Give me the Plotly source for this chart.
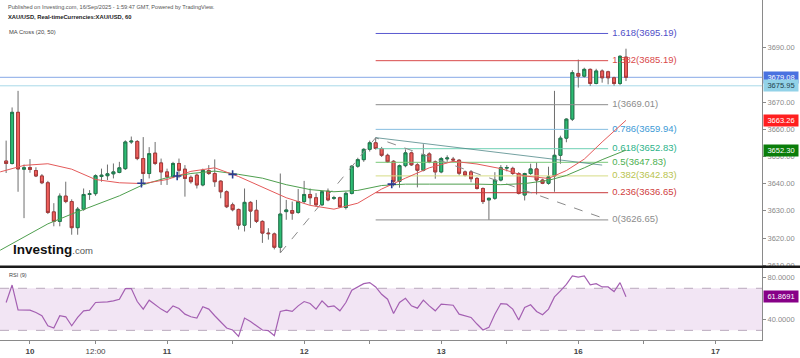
import plotly.graph_objects as go

# ---------------- data ----------------
hours = list(range(-4, 101))  # hourly bar index, 0 = first bar of day "10"

open_ = [3648.3, 3647.4, 3666.2, 3645.3, 3645.9, 3644.8, 3642.8, 3640.3, 3629.6, 3626.1,
         3635.4, 3633.4, 3623.8, 3630.6, 3636.0, 3636.3, 3642.6, 3642.9, 3643.6, 3644.1,
         3645.5, 3655.3, 3655.5, 3649.2, 3643.7, 3651.2, 3647.6, 3644.3, 3642.5, 3647.4,
         3645.3, 3642.3, 3643.1, 3639.5, 3644.8, 3643.7, 3640.9, 3637.0, 3632.2, 3630.5,
         3624.7, 3633.1, 3630.2, 3626.1, 3621.8, 3621.5, 3616.6, 3629.7, 3630.1, 3629.4,
         3633.4, 3636.0, 3634.8, 3632.2, 3637.2, 3634.6, 3634.8, 3631.2, 3636.4, 3646.4,
         3648.8, 3652.6, 3655.0, 3652.9, 3650.4, 3648.2, 3640.8, 3646.6, 3651.3, 3646.9,
         3644.9, 3650.9, 3648.0, 3644.3, 3649.1, 3649.0, 3648.6, 3644.3, 3644.3, 3641.9,
         3638.2, 3634.0, 3634.6, 3641.3, 3645.7, 3645.6, 3643.7, 3635.8, 3643.7, 3645.4,
         3641.3, 3640.1, 3642.8, 3650.4, 3656.7, 3663.7, 3680.5, 3679.5, 3682.0, 3676.8,
         3681.4, 3681.1, 3678.9, 3676.8, 3686.5]
high = [3655.8, 3668.0, 3674.1, 3647.0, 3649.0, 3646.0, 3643.5, 3641.0, 3632.8, 3636.4,
        3640.7, 3634.2, 3631.4, 3638.2, 3637.6, 3643.4, 3645.5, 3647.0, 3647.4, 3648.0,
        3655.9, 3657.3, 3656.0, 3657.1, 3653.4, 3655.3, 3649.2, 3645.5, 3648.0, 3649.2,
        3646.8, 3643.0, 3643.7, 3645.5, 3646.8, 3648.9, 3641.2, 3637.5, 3633.0, 3630.8,
        3638.2, 3633.5, 3634.0, 3626.5, 3623.6, 3622.0, 3643.7, 3634.0, 3633.4, 3638.0,
        3641.0, 3638.2, 3636.5, 3637.3, 3638.2, 3635.5, 3635.2, 3637.0, 3646.8, 3649.5,
        3653.0, 3655.8, 3656.9, 3653.5, 3651.0, 3648.6, 3647.0, 3652.6, 3651.8, 3647.5,
        3654.5, 3651.5, 3648.5, 3649.8, 3650.4, 3649.8, 3649.0, 3644.8, 3645.0, 3642.4,
        3638.6, 3634.8, 3644.2, 3646.8, 3646.8, 3646.2, 3644.2, 3644.0, 3647.3, 3647.8,
        3641.8, 3646.2, 3674.1, 3657.6, 3664.0, 3681.7, 3685.6, 3682.6, 3682.3, 3682.2,
        3682.0, 3681.5, 3679.3, 3687.2, 3689.6]
low = [3643.9, 3647.0, 3637.0, 3627.3, 3644.0, 3642.4, 3639.8, 3628.8, 3624.3, 3624.3,
       3632.8, 3621.2, 3621.2, 3630.0, 3634.0, 3635.5, 3640.7, 3641.3, 3641.9, 3643.8,
       3645.0, 3654.6, 3648.6, 3640.0, 3641.9, 3646.8, 3639.5, 3639.5, 3642.0, 3642.0,
       3635.2, 3640.0, 3638.2, 3639.0, 3643.2, 3638.8, 3634.6, 3631.0, 3629.8, 3623.1,
       3622.4, 3623.7, 3625.5, 3618.2, 3619.4, 3615.8, 3614.5, 3626.7, 3626.7, 3628.9,
       3632.8, 3632.2, 3631.5, 3631.8, 3633.5, 3634.0, 3631.2, 3630.5, 3636.0, 3645.8,
       3648.0, 3651.8, 3652.5, 3649.8, 3647.6, 3639.0, 3638.5, 3646.0, 3646.5, 3638.6,
       3644.5, 3647.5, 3641.8, 3643.8, 3648.0, 3647.8, 3643.0, 3642.6, 3640.5, 3637.8,
       3632.5, 3626.65, 3634.0, 3640.8, 3644.5, 3643.2, 3636.0, 3633.8, 3643.2, 3636.0,
       3639.8, 3639.6, 3637.0, 3647.3, 3655.2, 3663.0, 3675.3, 3679.0, 3675.9, 3676.5,
       3677.1, 3676.5, 3676.0, 3676.2, 3677.7]
close = [3647.4, 3666.2, 3645.4, 3645.8, 3645.2, 3642.8, 3640.3, 3629.4, 3626.1, 3635.4,
         3633.4, 3623.8, 3630.6, 3636.0, 3636.3, 3642.9, 3643.1, 3643.6, 3644.3, 3645.8,
         3655.3, 3655.6, 3649.2, 3643.7, 3651.0, 3647.4, 3644.3, 3642.5, 3647.4, 3644.9,
         3641.9, 3640.7, 3639.5, 3644.9, 3643.7, 3640.7, 3637.0, 3631.5, 3630.4, 3624.7,
         3633.1, 3629.9, 3626.1, 3621.8, 3621.6, 3616.6, 3628.8, 3630.3, 3629.1, 3633.4,
         3636.0, 3634.8, 3632.2, 3637.0, 3634.0, 3634.8, 3631.5, 3636.4, 3646.4, 3648.8,
         3652.6, 3655.0, 3652.9, 3650.4, 3648.0, 3640.8, 3646.6, 3651.3, 3646.9, 3644.9,
         3650.6, 3648.0, 3644.3, 3649.2, 3649.4, 3648.7, 3643.8, 3643.1, 3641.8, 3638.2,
         3633.4, 3634.6, 3641.3, 3645.8, 3645.9, 3643.7, 3636.4, 3643.7, 3645.4, 3641.3,
         3640.1, 3642.5, 3650.4, 3656.7, 3663.7, 3680.8, 3679.5, 3682.0, 3676.8, 3681.4,
         3678.9, 3678.9, 3676.8, 3686.8, 3679.08]

rsi = [56.5, 73.1, 49.5, 49.5, 49.2, 47.0, 43.9, 34.4, 32.2, 43.9,
       42.9, 34.4, 42.3, 48.6, 49.2, 56.5, 56.5, 57.1, 58.0, 59.6,
       69.7, 69.7, 57.4, 50.2, 58.7, 54.3, 50.2, 47.0, 53.3, 50.8,
       45.4, 42.9, 41.7, 52.4, 50.2, 43.9, 37.6, 32.2, 30.3, 24.3,
       41.7, 38.5, 34.4, 30.3, 29.7, 25.0, 48.0, 49.2, 48.0, 53.3,
       57.4, 55.5, 50.2, 58.0, 52.4, 53.3, 48.6, 56.5, 68.1, 71.3,
       74.4, 75.4, 71.3, 64.3, 59.6, 46.1, 56.5, 60.5, 53.3, 51.1,
       58.7, 53.3, 48.6, 54.9, 54.3, 53.9, 45.4, 43.9, 42.3, 36.0,
       30.3, 32.8, 45.4, 55.5, 54.9, 50.2, 39.8, 51.7, 54.3, 48.0,
       44.8, 50.2, 61.8, 67.5, 73.8, 81.7, 80.7, 81.7, 73.2, 74.4,
       71.3, 71.3, 66.9, 75.4, 61.8691]

ma_x = [-5, -1, 3, 7, 11, 15, 19, 23, 27, 31, 35, 39, 43, 47, 51, 55, 59, 63, 67, 71,
        75, 79, 83, 87, 90, 93, 96, 100]
ma20 = [3644.3, 3646.7, 3647.3, 3645.3, 3641.5, 3640.3, 3640.0, 3641.5, 3644.5, 3645.8,
        3642.6, 3638.6, 3634.8, 3632.0, 3630.6, 3632.8, 3638.0, 3642.0, 3645.8, 3648.2,
        3647.2, 3645.5, 3642.8, 3641.9, 3644.8, 3649.0, 3655.3, 3663.26]
ma50 = [3615.5, 3620.5, 3625.2, 3628.8, 3632.2, 3635.5, 3639.6, 3642.2, 3643.7, 3644.6,
        3643.4, 3642.0, 3639.6, 3637.8, 3637.0, 3637.5, 3639.3, 3639.8, 3639.8, 3639.9,
        3639.8, 3639.6, 3640.0, 3641.2, 3643.0, 3645.8, 3648.8, 3652.30]

cross_x = [18.7, 24.7, 34.0, 60.7]
cross_y = [3640.1, 3642.8, 3643.4, 3639.8]

fib_ratio = ['0', '0.236', '0.382', '0.5', '0.618', '0.786', '1', '1.382', '1.618']
fib_value = [3626.65, 3636.65, 3642.83, 3647.83, 3652.83, 3659.94, 3669.01, 3685.19, 3695.19]
fib_line_color = ['#8c8c8c', '#c8383a', '#d6dc86', '#78c878', '#6fd0b4', '#86bde0',
                  '#8c8c8c', '#d94a4a', '#5a5ad0']
fib_text_color = ['#8c8c8c', '#d04040', '#b9c450', '#4caf50', '#2db38a', '#3d9ad6',
                  '#8c8c8c', '#d94a4a', '#5050c8']
swing_x = [42, 58, 97]          # A, B, C of the extension
swing_y = [3614.5, 3656.86, 3626.65]
trend_x = [58, 96]
trend_y = [3656.9, 3646.8]

last_price = 3679.08
ask_price = 3675.95
ma20_last = 3663.26
ma50_last = 3652.30
rsi_last = 61.8691

price_ticks = [3610, 3620, 3630, 3640, 3650, 3660, 3670, 3690]   # 3680 sits under the price box
rsi_ticks = [40, 80]
x_tick_pos = [0, 11, 23, 34, 46, 57, 69, 80, 92, 103, 115]
x_tick_text = ['<b>10</b>', '12:00', '<b>11</b>', '', '<b>12</b>', '', '<b>13</b>', '',
               '<b>16</b>', '', '<b>17</b>']

# ---------------- figure ----------------
FONT = 'Arial, Liberation Sans, sans-serif'
XD = 762 / 800
MAIN_DOM = [1 - 269 / 358, 1]
RSI_DOM = [1 - 343 / 358, 1 - 269 / 358]

fig = go.Figure()

# fibonacci extension levels (under the candles)
for v, c in zip(fib_value, fib_line_color):
    fig.add_trace(go.Scatter(x=[swing_x[1], swing_x[2]], y=[v, v], mode='lines',
                             line=dict(color=c, width=1), hoverinfo='skip'))
fig.add_trace(go.Scatter(x=swing_x, y=swing_y, mode='lines',
                         line=dict(color='#8a8a8a', width=1, dash='dash'), hoverinfo='skip'))
fig.add_trace(go.Scatter(x=[swing_x[2] + 0.7] * len(fib_value), y=fib_value, mode='text',
                         text=[f'{r}({v:.2f})' for r, v in zip(fib_ratio, fib_value)],
                         textposition='middle right',
                         textfont=dict(family=FONT, size=9.5, color=fib_text_color),
                         hoverinfo='skip'))
fig.add_trace(go.Scatter(x=trend_x, y=trend_y, mode='lines',
                         line=dict(color='rgba(70,130,130,0.75)', width=1), hoverinfo='skip'))

# moving averages
fig.add_trace(go.Scatter(x=ma_x, y=ma50, mode='lines', line=dict(color='#4f9f4f', width=1),
                         hoverinfo='skip'))
fig.add_trace(go.Scatter(x=ma_x, y=ma20, mode='lines', line=dict(color='#e45a5a', width=1),
                         hoverinfo='skip'))

# candles: wicks (grey) then bodies
fig.add_trace(go.Candlestick(x=hours, open=open_, high=high, low=low, close=close,
                             increasing=dict(line=dict(color='#6e6e6e', width=1), fillcolor='#6e6e6e'),
                             decreasing=dict(line=dict(color='#6e6e6e', width=1), fillcolor='#6e6e6e'),
                             hoverinfo='skip'))
body_hi = [max(o, c) for o, c in zip(open_, close)]
body_lo = [min(o, c) for o, c in zip(open_, close)]
fig.add_trace(go.Candlestick(x=hours, open=open_, high=body_hi, low=body_lo, close=close,
                             increasing=dict(line=dict(color='#1f7a4d', width=1), fillcolor='#2dbd74'),
                             decreasing=dict(line=dict(color='#a83a3a', width=1), fillcolor='#f0605d'),
                             hoverinfo='skip'))

fig.add_trace(go.Scatter(x=cross_x, y=cross_y, mode='markers',
                         marker=dict(symbol='cross-thin', size=6, line=dict(color='#2b3c90', width=1.6)),
                         hoverinfo='skip'))

# RSI
fig.add_trace(go.Scatter(x=hours, y=rsi, mode='lines', xaxis='x', yaxis='y2',
                         line=dict(color='#a460b2', width=1.2), hoverinfo='skip'))

fig.update_layout(
    width=800, height=358, margin=dict(l=0, r=0, t=0, b=0),
    paper_bgcolor='white', plot_bgcolor='white', showlegend=False,
    font=dict(family=FONT, color='#555'),
    xaxis=dict(domain=[0, XD], range=[-5.03, 122.82], anchor='y2', showgrid=False,
               zeroline=False, showline=True, linecolor='#8a8a8a', linewidth=1,
               ticks='outside', ticklen=3, tickcolor='#8a8a8a',
               tickvals=x_tick_pos, ticktext=x_tick_text,
               tickfont=dict(size=8, color='#444', family=FONT),
               rangeslider=dict(visible=False)),
    yaxis=dict(domain=MAIN_DOM, range=[3609.43, 3707.5], side='right', anchor='x',
               showgrid=False, zeroline=False, showline=True, linecolor='#8a8a8a',
               ticks='outside', ticklen=3, tickcolor='#8a8a8a',
               tickvals=price_ticks, ticktext=[f'{t:.2f}' for t in price_ticks],
               tickfont=dict(size=7.5, color='#8a8a8a', family=FONT)),
    yaxis2=dict(domain=RSI_DOM, range=[20.7, 90.5], side='right', anchor='x',
                showgrid=False, zeroline=False, showline=True, linecolor='#8a8a8a',
                ticks='outside', ticklen=3, tickcolor='#8a8a8a',
                tickvals=rsi_ticks, ticktext=[f'{t:.4f}' for t in rsi_ticks],
                tickfont=dict(size=7.5, color='#8a8a8a', family=FONT)),
)

shapes = [
    dict(type='rect', xref='paper', yref='y2', x0=0, x1=XD, y0=30, y1=70,
         fillcolor='#f2e5f4', line=dict(width=0), layer='below'),
    dict(type='line', xref='paper', yref='y2', x0=0, x1=XD, y0=70, y1=70,
         line=dict(color='#b9a9bc', width=1, dash='dash'), layer='below'),
    dict(type='line', xref='paper', yref='y2', x0=0, x1=XD, y0=30, y1=30,
         line=dict(color='#b9a9bc', width=1, dash='dash'), layer='below'),
    dict(type='line', xref='paper', yref='y', x0=0, x1=XD, y0=last_price, y1=last_price,
         line=dict(color='#86a8e6', width=1), layer='below'),
    dict(type='line', xref='paper', yref='y', x0=0, x1=XD, y0=ask_price, y1=ask_price,
         line=dict(color='#a9d9e8', width=1), layer='below'),
    dict(type='line', xref='paper', yref='paper', x0=0, x1=1, y0=MAIN_DOM[0], y1=MAIN_DOM[0],
         line=dict(color='#1a1a1a', width=2.5), layer='above'),
]
fig.update_layout(shapes=shapes)

ann = []
def box(val, yref, bg, fg, txt):
    ann.append(dict(x=XD, xref='paper', y=val, yref=yref, xanchor='left', yanchor='middle',
                    text=txt, showarrow=False, bgcolor=bg, borderpad=1, width=32,
                    font=dict(size=7.5, color=fg, family=FONT), xshift=1))

box(last_price, 'y', '#4a72e0', 'white', f'{last_price:.2f}')
box(ask_price, 'y', '#92d2e8', '#24424e', f'{ask_price:.2f}')
box(ma20_last, 'y', '#ff1f1f', 'white', f'{ma20_last:.2f}')
box(ma50_last, 'y', '#0a7d0a', 'white', f'{ma50_last:.2f}')
box(rsi_last, 'y2', '#870087', 'white', f'{rsi_last:.4f}')

def txt(x, y, s, size, color, bold=False):
    ann.append(dict(x=x / 800, y=1 - y / 358, xref='paper', yref='paper', xanchor='left',
                    yanchor='middle', showarrow=False,
                    text=f'<b>{s}</b>' if bold else s,
                    font=dict(size=size, color=color, family=FONT)))

txt(6, 7, 'Published on Investing.com, 16/Sep/2025 - 1:59:47 GMT, Powered by TradingView.', 5.6, '#555')
txt(6, 17, 'XAU/USD, Real-timeCurrencies:XAU/USD, 60', 5.8, '#222', True)
txt(7, 32, 'MA Cross (20, 50)', 5.8, '#444')
txt(7, 277, 'RSI (9)', 5.6, '#444')
ann.append(dict(x=11 / 800, y=1 - 252 / 358, xref='paper', yref='paper', xanchor='left',
                yanchor='middle', showarrow=False,
                text='<b>Investing</b><span style="font-size:9.5px;color:#555">.com</span>',
                font=dict(size=13.5, color='#111', family=FONT)))
fig.update_layout(annotations=ann)

fig.write_html('out.html', config={'displayModeBar': False},
               post_script="document.body.style.margin='0';document.body.style.padding='0';"
                           "document.body.style.overflow='hidden';")
